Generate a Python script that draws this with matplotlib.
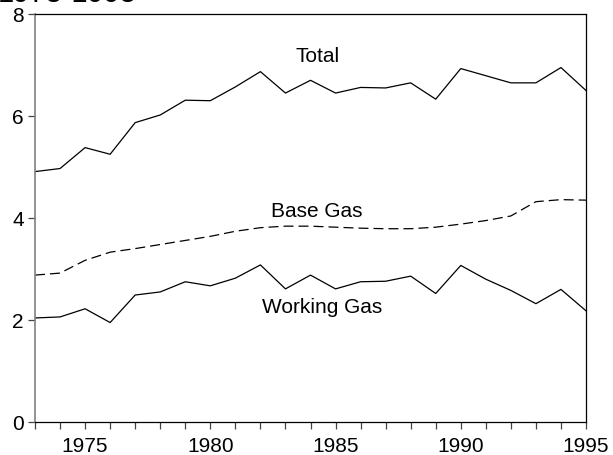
"""Natural gas underground storage: total, base and working gas, 1973-1995."""

import matplotlib
matplotlib.use("Agg")
import matplotlib.pyplot as plt

plt.rcParams["font.family"] = ["Liberation Sans", "DejaVu Sans"]

years = list(range(1973, 1996))
total = [4.91, 4.97, 5.38, 5.25, 5.87, 6.02, 6.31, 6.30, 6.57, 6.87, 6.45, 6.70,
         6.45, 6.56, 6.55, 6.65, 6.33, 6.93, 6.79, 6.65, 6.65, 6.95, 6.50]
base_gas = [2.88, 2.92, 3.17, 3.33, 3.40, 3.48, 3.56, 3.64, 3.74, 3.81, 3.84, 3.84,
            3.82, 3.80, 3.79, 3.79, 3.82, 3.88, 3.95, 4.04, 4.32, 4.36, 4.35]
working_gas = [2.04, 2.06, 2.22, 1.95, 2.49, 2.55, 2.75, 2.67, 2.82, 3.08, 2.61, 2.88,
               2.61, 2.75, 2.76, 2.86, 2.52, 3.07, 2.80, 2.58, 2.32, 2.60, 2.18]
major_years = [1975, 1980, 1985, 1990, 1995]
y_ticks = [0, 2, 4, 6, 8]

fig = plt.figure(figsize=(6.13, 4.55), dpi=100)
ax = fig.add_axes([35 / 613, 1 - 422 / 455, 551 / 613, 408 / 455])

ax.plot(years, total, color="black", lw=0.9)
ax.plot(years, base_gas, color="black", lw=0.9, dashes=(8, 4))
ax.plot(years, working_gas, color="black", lw=0.9)

ax.text(1984.28, 7.16, "Total", ha="center", va="center", fontsize=15)
ax.text(1984.26, 4.12, "Base Gas", ha="center", va="center", fontsize=15)
ax.text(1984.48, 2.24, "Working Gas", ha="center", va="center", fontsize=15)

ax.set_xlim(1973, 1995)
ax.set_ylim(0, 8)
ax.set_xticks(major_years)
ax.set_xticks(years, minor=True)
ax.set_yticks(y_ticks)
ax.tick_params(axis="both", which="both", direction="out", length=5,
               width=0.9, color="#444444", labelsize=15, pad=3)
ax.tick_params(axis="x", which="major", pad=6)

ax.spines["left"].set_color("#808080")
ax.spines["left"].set_linewidth(1.2)
for side in ("top", "bottom", "right"):
    ax.spines[side].set_color("black")
    ax.spines[side].set_linewidth(0.9)

# heading sits above the frame, only its lower edge shows
fig.text(-0.003, 1 - 2 / 455, "1973-1995", fontsize=21, ha="left", va="baseline")

fig.savefig("out.png", dpi=100)
